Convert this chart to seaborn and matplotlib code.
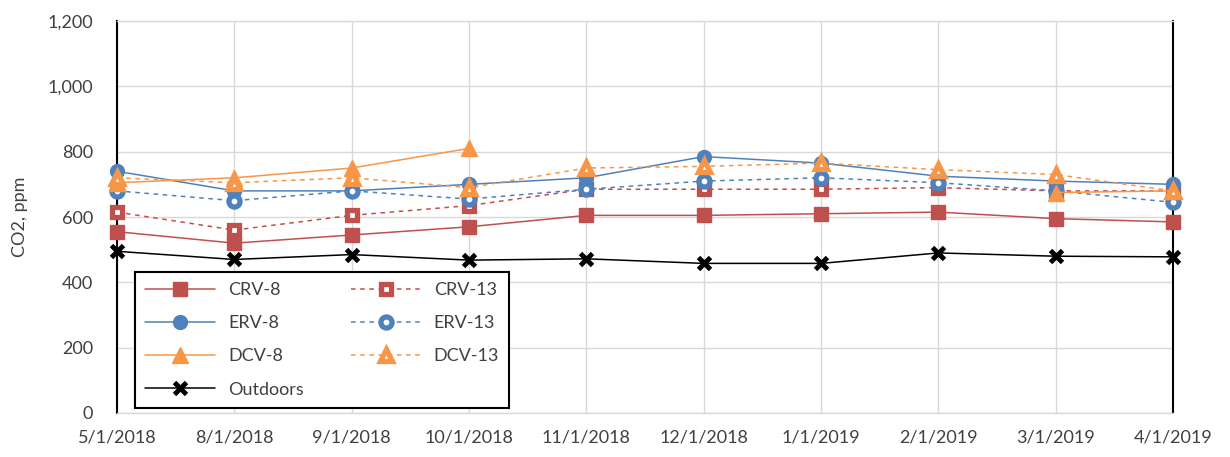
import numpy as np
import pandas as pd
import matplotlib
matplotlib.use("Agg")
import matplotlib.pyplot as plt
from matplotlib.lines import Line2D
from matplotlib.ticker import FuncFormatter
import seaborn as sns

dates = ["5/1/2018", "8/1/2018", "9/1/2018", "10/1/2018", "11/1/2018",
         "12/1/2018", "1/1/2019", "2/1/2019", "3/1/2019", "4/1/2019"]

crv_8 = [555, 520, 545, 570, 605, 605, 610, 615, 595, 585]
crv_13 = [615, 560, 605, 635, 685, 685, 685, 690, 680, 680]
erv_8 = [740, 680, 680, 700, 720, 785, 765, 725, 710, 700]
erv_13 = [680, 650, 680, 655, 685, 710, 720, 705, 680, 645]
dcv_8 = [705, 720, 750, 810, np.nan, np.nan, np.nan, np.nan, 675, 680]
dcv_13 = [720, 705, 720, 690, 750, 755, 765, 745, 730, 680]
outdoors = [495, 470, 485, 468, 472, 458, 458, 490, 480, 478]

y_ticks = [0, 200, 400, 600, 800, 1000, 1200]

RED = "#C0504D"
BLUE = "#4F81BD"
ORANGE = "#F79646"
BLACK = "#000000"
TEXT = "#404040"

sns.set_theme(style="white")
plt.rcParams["font.family"] = ["Lato", "DejaVu Sans"]

fig, ax = plt.subplots(figsize=(12.3, 4.57), dpi=100)
fig.subplots_adjust(left=0.0951, right=0.9537, top=0.954, bottom=0.0963)

pos = np.arange(len(dates))

series = [
    ("CRV-8", crv_8, dict(color=RED, marker="s", markersize=9.5, mfc=RED, mec=RED, mew=1, linestyle="-", linewidth=1.1)),
    ("CRV-13", crv_13, dict(color=RED, marker="s", markersize=7.5, mfc="white", mec=RED, mew=3.8, linestyle=(0, (3, 3)), linewidth=1.1)),
    ("ERV-8", erv_8, dict(color=BLUE, marker="o", markersize=10, mfc=BLUE, mec=BLUE, mew=1, linestyle="-", linewidth=1.1)),
    ("ERV-13", erv_13, dict(color=BLUE, marker="o", markersize=8, mfc="white", mec=BLUE, mew=3.8, linestyle=(0, (3, 3)), linewidth=1.1)),
    ("DCV-8", dcv_8, dict(color=ORANGE, marker="^", markersize=11.5, mfc=ORANGE, mec=ORANGE, mew=1, linestyle="-", linewidth=1.1)),
    ("DCV-13", dcv_13, dict(color=ORANGE, marker="^", markersize=9, mfc="white", mec=ORANGE, mew=3.8, linestyle=(0, (3, 3)), linewidth=1.1)),
    ("Outdoors", outdoors, dict(color=BLACK, marker="x", markersize=9, mfc=BLACK, mec=BLACK, mew=3.5, linestyle="-", linewidth=1.1)),
]

handles = {}
for name, vals, style in series:
    df = pd.DataFrame({"x": pos, "y": np.asarray(vals, dtype=float)})
    # split at gaps so missing months break the line
    df["seg"] = df["y"].isna().cumsum()
    df = df.dropna()
    for _, part in df.groupby("seg"):
        sns.lineplot(data=part, x="x", y="y", ax=ax, legend=False, zorder=3, clip_on=False, **style)
    handles[name] = Line2D([], [], **style)

ax.set_xlim(pos[0], pos[-1])
ax.set_ylim(0, 1200)
ax.set_xticks(pos)
ax.set_xticklabels(dates)
ax.set_yticks(y_ticks)
ax.yaxis.set_major_formatter(FuncFormatter(lambda v, _: f"{int(v):,}"))
ax.tick_params(axis="both", labelsize=13, colors=TEXT, length=0)
ax.tick_params(axis="x", pad=12)
ax.tick_params(axis="y", pad=17)
ax.set_xlabel("")
ax.set_ylabel("CO2, ppm", fontsize=13, color=TEXT, labelpad=14)

ax.grid(True, color="#D9D9D9", linewidth=1)
ax.set_axisbelow(True)
for side in ["top", "bottom"]:
    ax.spines[side].set_color("#D9D9D9")
    ax.spines[side].set_linewidth(1)
for side in ["left", "right"]:
    ax.spines[side].set_color(BLACK)
    ax.spines[side].set_linewidth(1.5)
    ax.spines[side].set_zorder(2.5)

order = ["CRV-8", "ERV-8", "DCV-8", "Outdoors", "CRV-13", "ERV-13", "DCV-13"]
leg = ax.legend([handles[n] for n in order], order, ncol=2, loc="lower left",
                bbox_to_anchor=(0.012, 0.0), frameon=True, fancybox=False,
                fontsize=13, handlelength=3.9, columnspacing=2.6,
                labelspacing=0.95, borderpad=0.55, handletextpad=0.7,
                borderaxespad=0.3)
leg.get_frame().set_edgecolor(BLACK)
leg.get_frame().set_linewidth(1.5)
leg.get_frame().set_facecolor("white")
leg.get_frame().set_alpha(1)
leg.set_zorder(5)
for t in leg.get_texts():
    t.set_color(TEXT)

fig.savefig("out.png", dpi=100, facecolor="white")
